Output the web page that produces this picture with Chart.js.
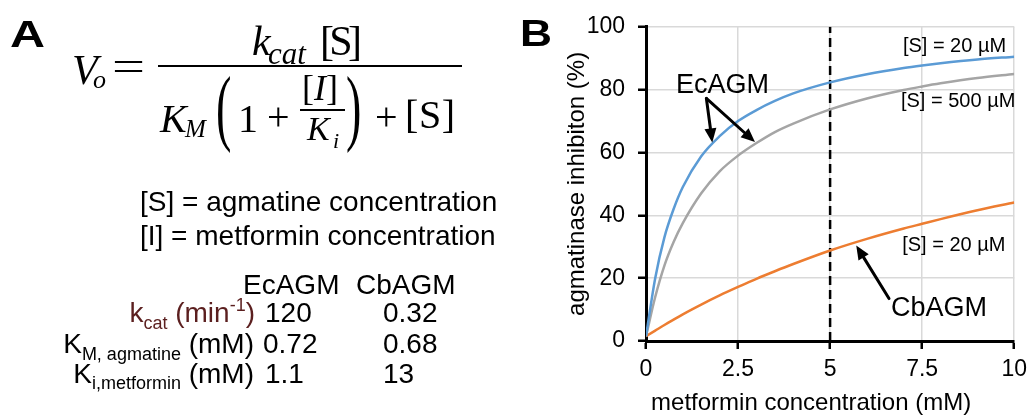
<!DOCTYPE html>
<html>
<head>
<meta charset="utf-8">
<title>Agmatinase inhibition by metformin</title>
<script src="https://cdn.jsdelivr.net/npm/chart.js@4.4.1/dist/chart.umd.min.js"></script>
<style>
  html, body { margin: 0; padding: 0; background: #fff; }
  #page { position: relative; width: 1034px; height: 417px; overflow: hidden; background: #fff; }
  #chartBox { position: absolute; left: 520px; top: 0; width: 514px; height: 417px; }
  #overlay { position: absolute; left: 0; top: 0; pointer-events: none; }
  .sans { font-family: "Liberation Sans", Arial, sans-serif; }
  .math { font-family: "Liberation Serif", "Times New Roman", serif; }
</style>
</head>
<body>
<div id="page">
  <div id="chartBox"><canvas id="chart"></canvas></div>
  <svg id="overlay" width="1034" height="417" xmlns="http://www.w3.org/2000/svg">
    <!-- panel letters -->
    <text class="sans" x="10" y="47" font-size="37" font-weight="bold" textLength="35" lengthAdjust="spacingAndGlyphs">A</text>
    <text class="sans" x="520" y="46" font-size="37" font-weight="bold" textLength="32" lengthAdjust="spacingAndGlyphs">B</text>

    <!-- rate equation -->
    <g class="math" fill="#000">
      <text x="72" y="84" font-size="42" font-style="italic">V</text>
      <text x="93" y="88" font-size="26" font-style="italic">o</text>
      <text x="112" y="80" font-size="42" textLength="33" lengthAdjust="spacingAndGlyphs">=</text>
      <line x1="158" y1="66" x2="462" y2="66" stroke="#000" stroke-width="2"/>
      <text x="252" y="55" font-size="42" font-style="italic">k</text>
      <text x="268" y="64" font-size="31" font-style="italic">cat</text>
      <text x="320" y="55" font-size="42" textLength="42">[S]</text>
      <text x="160" y="132" font-size="40" font-style="italic">K</text>
      <text x="185" y="137" font-size="25" font-style="italic">M</text>
      <text transform="translate(216,135) scale(0.55,1)" font-size="84">(</text>
      <text x="238" y="132" font-size="40">1</text>
      <text x="267" y="130" font-size="40">+</text>
      <text x="302" y="100" font-size="36">[<tspan font-style="italic">I</tspan>]</text>
      <line x1="300" y1="110" x2="345" y2="110" stroke="#000" stroke-width="2"/>
      <text x="307" y="140" font-size="34" font-style="italic">K</text>
      <text x="333" y="148" font-size="22" font-style="italic">i</text>
      <text transform="translate(346,135) scale(0.55,1)" font-size="84">)</text>
      <text x="375" y="130" font-size="40">+</text>
      <text x="405" y="128" font-size="40" textLength="50">[S]</text>
    </g>

    <!-- definitions and kinetic constants -->
    <g class="sans" font-size="28" fill="#000">
      <text x="140" y="211">[S] = agmatine concentration</text>
      <text x="140" y="245">[I] = metformin concentration</text>
      <text x="243" y="294">EcAGM</text>
      <text x="356" y="294">CbAGM</text>

      <text x="255" y="322" text-anchor="end" fill="#5b1f1f">k<tspan font-size="18" dy="7">cat</tspan><tspan dy="-7"> (min</tspan><tspan font-size="18" dy="-11">-1</tspan><tspan dy="11">)</tspan></text>
      <text x="265" y="322">120</text>
      <text x="383" y="322">0.32</text>

      <text x="254" y="353" text-anchor="end">K<tspan font-size="18" dy="7">M, agmatine</tspan><tspan dy="-7"> (mM)</tspan></text>
      <text x="263" y="353">0.72</text>
      <text x="383" y="353">0.68</text>

      <text x="254" y="383" text-anchor="end">K<tspan font-size="18" dy="6">i,metformin</tspan><tspan dy="-6"> (mM)</tspan></text>
      <text x="265" y="383">1.1</text>
      <text x="383" y="383">13</text>
    </g>
  </svg>
</div>

<script>
// Metformin concentration (mM) at which each curve is sampled
const concentrations = [0, 0.25, 0.5, 0.75, 1, 1.5, 2, 2.5, 3, 3.5, 4, 5, 6, 7, 7.5, 8, 9, 10];

// Predicted agmatinase inhibition (%)
const ecAgm20uM  = [1.5, 20, 33, 42, 49, 58.8, 65.2, 70, 73.5, 76.4, 78.8, 82.3, 84.9, 86.9, 87.7, 88.4, 89.6, 90.5];
const ecAgm500uM = [1.5, 14, 24, 31.5, 37.5, 47, 54, 59, 63, 66.5, 69.2, 73.7, 77.2, 79.9, 81, 82, 83.7, 85];
const cbAgm20uM  = [1.5, 3.3, 5.1, 6.8, 8.5, 11.6, 14.5, 17.2, 19.8, 22.2, 24.5, 28.8, 32.5, 35.8, 37.3, 38.8, 41.6, 44.1];

// Reference metformin concentration (mM) marked by the dashed line
const markerConcentration = [5];

// Axis ticks
const xTickValues = [0, 2.5, 5, 7.5, 10];
const yTickValues = [0, 20, 40, 60, 80, 100];

// Axis titles
const xTitle = 'metformin concentration (mM)';
const yTitle = 'agmatinase inhibiton (%)';

const FONT = '"Liberation Sans", Arial, sans-serif';

const toPoints = ys => concentrations.map((x, i) => ({ x, y: ys[i] }));

// Callout labels and arrows, placed in data coordinates
const callouts = [
  { text: 'EcAGM', x: 2.08, y: 81.3, align: 'center', size: 27 },
  { text: '[S] = 20 µM', x: 9.78, y: 93.7, align: 'right', size: 20 },
  { text: '[S] = 500 µM', x: 10.03, y: 76.3, align: 'right', size: 20 },
  { text: '[S] = 20 µM', x: 9.76, y: 30.5, align: 'right', size: 20 },
  { text: 'CbAGM', x: 7.96, y: 10.2, align: 'center', size: 27 }
];
const arrows = [
  { from: [1.64, 77.2], to: [1.80, 63.2] },
  { from: [1.64, 77.2], to: [2.96, 63.3] },
  { from: [6.60, 13.5], to: [5.71, 30.4] }
];

const calloutPlugin = {
  id: 'callouts',
  afterDatasetsDraw(chart) {
    const { ctx, scales: { x, y }, chartArea } = chart;
    ctx.save();
    ctx.fillStyle = '#000';
    ctx.strokeStyle = '#000';
    ctx.textBaseline = 'middle';
    callouts.forEach(c => {
      ctx.font = `${c.size}px ${FONT}`;
      ctx.textAlign = c.align;
      ctx.fillText(c.text, x.getPixelForValue(c.x), y.getPixelForValue(c.y));
    });
    arrows.forEach(a => {
      const x1 = x.getPixelForValue(a.from[0]), y1 = y.getPixelForValue(a.from[1]);
      const x2 = x.getPixelForValue(a.to[0]), y2 = y.getPixelForValue(a.to[1]);
      const ang = Math.atan2(y2 - y1, x2 - x1);
      const headLen = 14, headHalf = 6;
      const bx = x2 - headLen * Math.cos(ang), by = y2 - headLen * Math.sin(ang);
      ctx.lineWidth = 3;
      ctx.lineCap = 'round';
      ctx.beginPath();
      ctx.moveTo(x1, y1);
      ctx.lineTo(bx, by);
      ctx.stroke();
      ctx.beginPath();
      ctx.moveTo(x2, y2);
      ctx.lineTo(bx + headHalf * Math.sin(ang), by - headHalf * Math.cos(ang));
      ctx.lineTo(bx - headHalf * Math.sin(ang), by + headHalf * Math.cos(ang));
      ctx.closePath();
      ctx.fill();
    });
    // x-axis title
    ctx.font = `24px ${FONT}`;
    ctx.textAlign = 'center';
    ctx.textBaseline = 'alphabetic';
    ctx.fillText(xTitle, (chartArea.left + chartArea.right) / 2 - 19, 410);
    ctx.restore();
  }
};

const axisGrid = { color: '#d9d9d9', lineWidth: 1.5, tickColor: '#000', tickWidth: 2.5, tickLength: 8 };
const axisBorder = { color: '#000', width: 3 };

new Chart(document.getElementById('chart'), {
  type: 'line',
  data: {
    datasets: [
      {
        label: 'EcAGM, [S] = 20 µM',
        data: toPoints(ecAgm20uM),
        borderColor: '#5b9bd5',
        borderWidth: 2.5,
        pointRadius: 0,
        cubicInterpolationMode: 'monotone',
        fill: false
      },
      {
        label: 'EcAGM, [S] = 500 µM',
        data: toPoints(ecAgm500uM),
        borderColor: '#a5a5a5',
        borderWidth: 2.5,
        pointRadius: 0,
        cubicInterpolationMode: 'monotone',
        fill: false
      },
      {
        label: 'CbAGM, [S] = 20 µM',
        data: toPoints(cbAgm20uM),
        borderColor: '#ed7d31',
        borderWidth: 2.5,
        pointRadius: 0,
        cubicInterpolationMode: 'monotone',
        fill: false
      },
      {
        label: 'marker',
        data: [{ x: markerConcentration[0], y: yTickValues[0] }, { x: markerConcentration[0], y: yTickValues[yTickValues.length - 1] }],
        borderColor: '#000',
        borderWidth: 2.5,
        borderDash: [9, 5],
        pointRadius: 0,
        fill: false
      }
    ]
  },
  options: {
    responsive: true,
    maintainAspectRatio: false,
    animation: false,
    events: [],
    layout: { padding: { top: 25, right: 16, left: 0, bottom: 0 } },
    plugins: { legend: { display: false }, tooltip: { enabled: false } },
    scales: {
      x: {
        type: 'linear',
        min: 0,
        max: 10,
        afterBuildTicks: s => { s.ticks = xTickValues.map(v => ({ value: v })); },
        afterFit: s => { s.height = 76; },
        grid: axisGrid,
        border: axisBorder,
        ticks: { color: '#000', font: { family: FONT, size: 23 }, padding: 7, maxRotation: 0, callback: v => String(v) }
      },
      y: {
        type: 'linear',
        min: 0,
        max: 100,
        afterBuildTicks: s => { s.ticks = yTickValues.map(v => ({ value: v })); },
        afterFit: s => { s.width = 126; },
        grid: axisGrid,
        border: axisBorder,
        ticks: { color: '#000', font: { family: FONT, size: 23 }, padding: 13, callback: v => String(v) },
        title: { display: true, text: yTitle, color: '#000', font: { family: FONT, size: 24 }, padding: { top: 43, bottom: 0 } }
      }
    }
  },
  plugins: [calloutPlugin]
});
</script>
</body>
</html>
